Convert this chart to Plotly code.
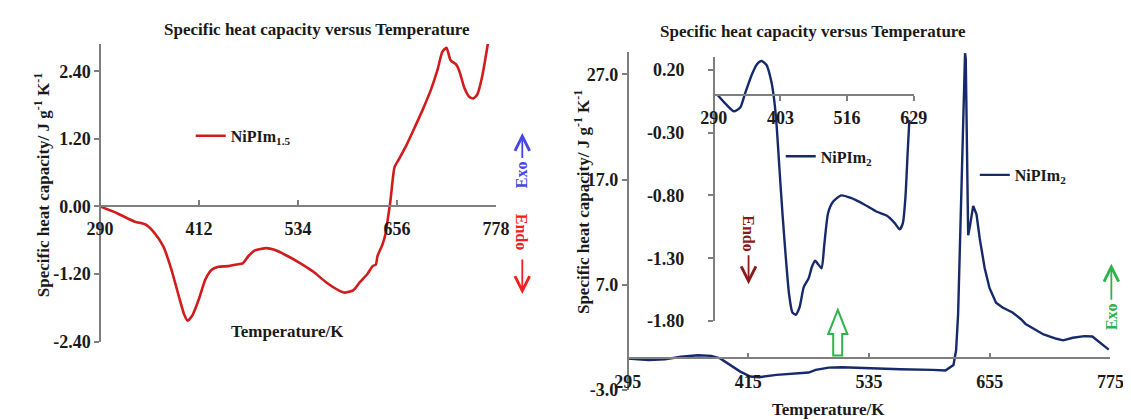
import plotly.graph_objects as go

W, H = 1131, 420
def px(x):
    return x / W
def py(y):
    return 1 - y / H

# ---------------- data ----------------
left_T = [290, 311, 333, 346, 356, 368, 378, 388, 394, 398,
          404, 412, 420, 428, 436, 448, 458, 466, 473, 481,
          495, 505, 521, 537, 553, 569, 583, 592, 602, 610,
          620, 626, 630, 632, 638, 642, 645, 648, 651, 653,
          658, 668, 678, 688, 698, 706, 712, 717, 722, 729,
          733, 739, 745, 750, 755, 761, 768]
left_cp = [0.00, -0.12, -0.27, -0.32, -0.45, -0.71, -1.12, -1.64, -1.93, -2.03,
           -1.93, -1.64, -1.29, -1.12, -1.07, -1.06, -1.03, -1.01, -0.88, -0.78,
           -0.74, -0.77, -0.88, -1.01, -1.16, -1.35, -1.48, -1.53, -1.49, -1.35,
           -1.19, -1.06, -1.03, -0.88, -0.68, -0.48, -0.19, 0.11, 0.51, 0.70,
           0.83, 1.10, 1.41, 1.73, 2.08, 2.43, 2.75, 2.82, 2.60, 2.52,
           2.40, 2.11, 1.95, 1.92, 1.99, 2.31, 2.89]

right_T = [295, 316, 332, 348, 365, 378, 387, 397, 407, 417,
           426, 443, 462, 475, 482, 495, 508, 533, 566, 598,
           611, 619, 621.6, 623.6, 625.8, 628.1, 630.5, 631.2, 632.8, 633.6,
           635.4, 638.6, 641.9, 645.1, 650, 654.8, 661.3, 667.8, 677.7, 685.9,
           690.7, 698.8, 708.6, 721.5, 728, 737.7, 749.1, 757.1, 766, 773.4]
right_cp = [0.00, -0.16, -0.09, 0.16, 0.31, 0.25, 0.00, -0.62, -1.25, -1.72,
            -1.78, -1.56, -1.40, -1.34, -1.09, -0.87, -0.84, -0.94, -1.03, -1.09,
            -1.15, -0.62, 0.78, 4.2, 12.0, 21.4, 29.0, 28.5, 18.3, 11.7,
            12.6, 14.5, 13.7, 11.4, 8.6, 6.7, 5.3, 4.84, 4.37, 3.75,
            3.28, 2.81, 2.28, 1.87, 1.72, 1.97, 2.12, 2.09, 1.40, 0.84]

inset_T = [296.6, 310, 324, 335, 343, 354.5, 362.7, 371, 379.3, 387.5,
           393, 396.9, 401.3, 406.8, 412.3, 417.8, 423.3, 428.8, 435.5, 442.6,
           450.9, 456.4, 461.9, 467.4, 472.9, 477.3, 483.9, 492.2, 506, 522.5,
           544.5, 566.6, 583.1, 596.9, 605.2, 610.7, 615.1, 618.9, 621.7]
inset_cp = [0.00, -0.07, -0.13, -0.10, 0.01, 0.16, 0.24, 0.27, 0.24, 0.11,
            -0.06, -0.26, -0.58, -0.96, -1.30, -1.59, -1.73, -1.75, -1.69, -1.53,
            -1.46, -1.37, -1.32, -1.35, -1.38, -1.20, -0.94, -0.85, -0.80, -0.82,
            -0.87, -0.93, -0.96, -1.02, -1.07, -1.02, -0.81, -0.45, -0.20]

left_xticks = [290, 412, 534, 656, 778]
left_yticks = [-2.4, -1.2, 0.0, 1.2, 2.4]
left_ytext = ["-2.40", "-1.20", "0.00", "1.20", "2.40"]
right_xticks = [295, 415, 535, 655, 775]
right_yticks = [-3, 7, 17, 27]
right_ytext = ["-3.0", "7.0", "17.0", "27.0"]
inset_xticks = [290, 403, 516, 629]
inset_yticks = [0.2, -0.3, -0.8, -1.3, -1.8]
inset_ytext = ["0.20", "-0.30", "-0.80", "-1.30", "-1.80"]

title_text = "Specific heat capacity versus Temperature"
ytitle_text = "Specific heat capacity/ J g<sup>-1</sup> K<sup>-1</sup>"
xtitle_text = "Temperature/K"

RED = "#D01C1C"
NAVY = "#16296A"
AXC = "#7F7F7F"
FONT = "Liberation Serif"

fig = go.Figure()
fig.add_trace(go.Scatter(x=left_T, y=left_cp, mode="lines", xaxis="x", yaxis="y",
                         line=dict(color=RED, width=2.6, shape="spline", smoothing=0.6),
                         name="NiPIm<sub>1.5</sub>", legend="legend"))
fig.add_trace(go.Scatter(x=right_T, y=right_cp, mode="lines", xaxis="x2", yaxis="y2",
                         line=dict(color=NAVY, width=2.4),
                         name="NiPIm<sub>2</sub>", legend="legend3"))
fig.add_trace(go.Scatter(x=inset_T, y=inset_cp, mode="lines", xaxis="x3", yaxis="y3",
                         line=dict(color=NAVY, width=2.4, shape="spline", smoothing=0.6),
                         name="NiPIm<sub>2</sub>", legend="legend2"))

tickfont = dict(family=FONT, size=18, color="#1a1a1a", weight="bold")
common = dict(showgrid=False, zeroline=False, showline=True, linecolor=AXC, linewidth=1.5,
              tickcolor=AXC, tickwidth=1.5, ticklen=5, tickfont=tickfont, fixedrange=True)

# right main axis: 0 at y=359 px, 10.78 px per unit
R0, RS = 359.0, 10.78
legfont = dict(family=FONT, size=16, color="#1a1a1a", weight="bold")

fig.update_layout(
    width=W, height=H, margin=dict(l=0, r=0, t=0, b=0),
    paper_bgcolor="white", plot_bgcolor="rgba(0,0,0,0)", showlegend=True,
    xaxis=dict(domain=[px(80), px(486)], range=[290, 778], anchor="free", position=py(202.7),
               tickvals=left_xticks, ticks="inside", ticklabelstandoff=7, **common),
    yaxis=dict(domain=[py(341.7), py(36.7)], range=[-2.4, 2.89], anchor="free", position=px(80),
               tickvals=left_yticks, ticktext=left_ytext, ticks="outside", **common),
    xaxis2=dict(domain=[px(621), px(1116)], range=[295, 775], anchor="free", position=py(R0),
                tickvals=right_xticks, ticks="inside", ticklabelstandoff=7, **common),
    yaxis2=dict(domain=[py(R0 + 3 * RS), py(R0 - 29.1 * RS)], range=[-3, 29.1], anchor="free",
                position=px(621), tickvals=right_yticks, ticktext=right_ytext, ticks="outside", **common),
    xaxis3=dict(domain=[px(709.3), px(914.3)], range=[290, 629], anchor="free", position=py(89.3),
                tickvals=inset_xticks, ticks="outside", ticklabelstandoff=1, **common),
    yaxis3=dict(domain=[py(320.7), py(50.7)], range=[-1.8, 0.298], anchor="free", position=px(709.3),
                tickvals=inset_yticks, ticktext=inset_ytext, ticks="outside", ticklabelstandoff=20, **common),
    legend=dict(x=px(173), y=py(131), xanchor="left", yanchor="middle", bgcolor="rgba(0,0,0,0)", font=legfont),
    legend2=dict(x=px(778), y=py(152), xanchor="left", yanchor="middle", bgcolor="rgba(0,0,0,0)", font=legfont),
    legend3=dict(x=px(977), y=py(171), xanchor="left", yanchor="middle", bgcolor="rgba(0,0,0,0)", font=legfont),
)

def ann(x, y, text, size=15, color="#1a1a1a", angle=0):
    fig.add_annotation(x=px(x), y=py(y), xref="paper", yref="paper", text=text, showarrow=False,
                       textangle=angle, xanchor="center", yanchor="middle",
                       font=dict(family=FONT, size=size, color=color, weight="bold"))

def arrow_label(tipx, tipy, textx, texty, text, color, angle, gap):
    fig.add_annotation(x=px(tipx), y=py(tipy), xref="paper", yref="paper", text=text,
                       showarrow=True, ax=textx - tipx, ay=texty - tipy, axref="pixel", ayref="pixel",
                       textangle=angle, arrowhead=5, arrowsize=1.6, arrowwidth=1.8, arrowcolor=color,
                       startstandoff=gap, standoff=0,
                       font=dict(family=FONT, size=16, color=color, weight="bold"))

ann(303, 22, title_text, 17)
ann(811, 24, title_text, 17)
ann(20, 182, ytitle_text, 17, angle=-90)
ann(574, 199, ytitle_text, 17, angle=-90)
ann(272, 331, xtitle_text, 17)
ann(827, 411, xtitle_text, 17)

arrow_label(513, 128, 513, 170, "Exo", "#4646E6", -90, 2)
arrow_label(513, 293, 513, 231, "Endo", "#F02020", 90, 8)
arrow_label(745, 283, 745, 231.5, "Endo", "#8B1A1A", 90, 3)
arrow_label(1117, 262, 1117, 315, "Exo", "#2DB34A", -90, 2)

# hollow green arrow
pts = [(836.5, 309.3), (846.3, 334), (841, 334), (841, 356), (831.8, 356), (831.8, 334), (826.7, 334)]
path = "M " + " L ".join(f"{px(a):.5f},{py(b):.5f}" for a, b in pts) + " Z"
fig.add_shape(type="path", path=path, xref="paper", yref="paper",
              line=dict(color="#2DB34A", width=2), fillcolor="rgba(0,0,0,0)")

fig.write_html("out.html")
